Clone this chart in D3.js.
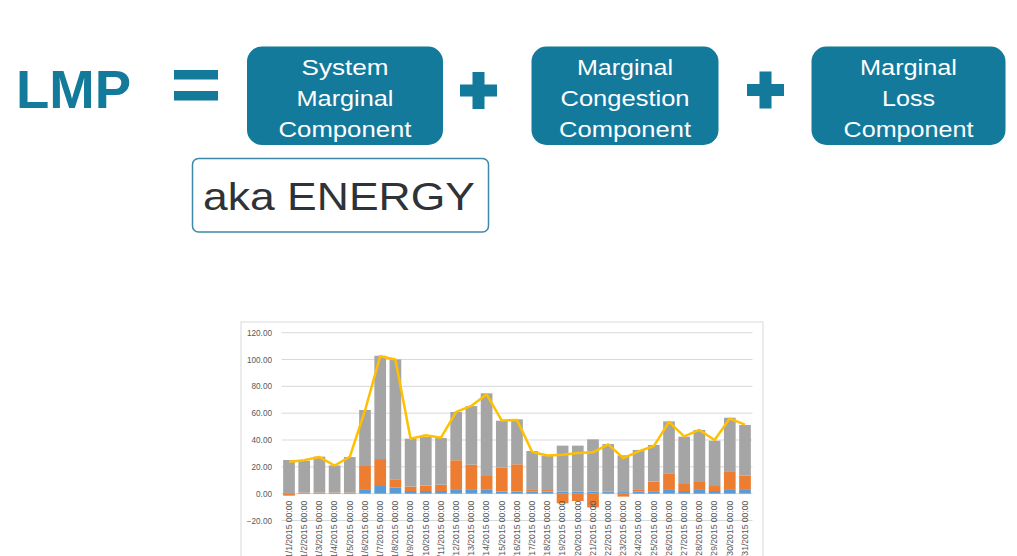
<!DOCTYPE html>
<html><head><meta charset="utf-8">
<script src="https://cdn.jsdelivr.net/npm/d3@7"></script>
<style>
html,body{margin:0;padding:0;background:#fff;}
svg{display:block;font-family:"Liberation Sans",Arial,sans-serif;}
</style></head>
<body>
<svg id="c" width="1017" height="556"></svg>
<script>
// ---- data ----
const days = d3.range(1, 32).map(d => `1/${d}/2015 00:00`);
const loss =       [0.5,0.5,0.5,0.5,0.5,2.8,5.7,4.5,2.0,2.0,2.0,2.8,2.8,3.3,1.5,1.5,1.5,1.5,1.5,1.5,1.5,1.2,1.2,1.5,1.8,2.8,2.0,2.8,2.0,2.8,2.8];
const congestion = [-1.5,0.3,0.3,0.3,0.3,17.8,20.1,6.2,3.3,4.0,4.7,22.1,18.8,9.9,17.9,20.4,1.3,1.2,-7.2,-5.5,-10.2,0.5,-2.2,1.3,7.2,12.4,5.2,5.9,3.7,13.4,10.6];
const energy =     [24.6,23.8,26.8,20.3,26.5,41.8,77.0,89.4,35.7,36.2,34.8,36.0,43.7,61.6,35.0,33.5,29.0,25.6,34.3,34.3,39.0,35.3,27.4,29.8,27.3,38.7,35.3,38.8,33.8,40.4,37.8];
const lmp =        [23.8,25.0,27.3,21.0,27.5,62.0,102.5,100.0,41.0,43.5,41.7,61.0,65.5,74.0,54.5,55.0,31.0,28.5,29.0,30.3,30.8,36.8,26.5,31.5,35.5,53.5,42.7,47.5,40.0,56.0,51.5];
const yTicks = [-20,0,20,40,60,80,100,120];
const seriesKeys = ["loss","congestion","energy"];
const seriesColors = {loss:"#5b9bd5", congestion:"#ed7d31", energy:"#a5a5a5"};

const svg = d3.select("#c");
const teal = "#137a9c";

// ---- header formula ----
svg.append("text").attr("x",16).attr("y",107.5).attr("font-size",54.5).attr("font-weight","bold")
  .attr("fill",teal).attr("textLength",115).attr("lengthAdjust","spacingAndGlyphs").text("LMP");
// equals sign
svg.append("rect").attr("x",174).attr("y",70).attr("width",44).attr("height",9.5).attr("fill",teal);
svg.append("rect").attr("x",174).attr("y",91).attr("width",44).attr("height",9.5).attr("fill",teal);
// plus signs
function plus(cx, cy){
  svg.append("rect").attr("x",cx-6).attr("y",cy-18.5).attr("width",12).attr("height",37).attr("fill",teal);
  svg.append("rect").attr("x",cx-18.5).attr("y",cy-6).attr("width",37).attr("height",12).attr("fill",teal);
}
plus(478.5, 90.5);
plus(765.5, 90);

const boxes = [
  {x:247, w:196, lines:[["System",87],["Marginal",97],["Component",133]]},
  {x:531.5, w:187, lines:[["Marginal",96],["Congestion",129],["Component",132]]},
  {x:811.5, w:194, lines:[["Marginal",97],["Loss",53],["Component",130]]}
];
const baselines = [75, 105.8, 136.7];
boxes.forEach(b => {
  svg.append("rect").attr("x",b.x).attr("y",46.5).attr("width",b.w).attr("height",98.5)
    .attr("rx",15).attr("fill",teal);
  b.lines.forEach((l,i) => {
    svg.append("text").attr("x",b.x+b.w/2).attr("y",baselines[i]).attr("text-anchor","middle")
      .attr("font-size",22).attr("fill","#fff").attr("textLength",l[1]).attr("lengthAdjust","spacingAndGlyphs").text(l[0]);
  });
});
svg.append("rect").attr("x",192.5).attr("y",158.5).attr("width",296).attr("height",73.5)
  .attr("rx",6).attr("fill","#fff").attr("stroke","#3d88a6").attr("stroke-width",1.5);
svg.append("text").attr("x",203).attr("y",210).attr("font-size",39.5).attr("fill","#2f3337")
  .attr("textLength",272).attr("lengthAdjust","spacingAndGlyphs").text("aka ENERGY");

// ---- chart panel ----
svg.append("rect").attr("x",241).attr("y",322).attr("width",522).attr("height",250)
  .attr("fill","#fff").attr("stroke","#d9d9d9").attr("stroke-width",1);

const x = d3.scaleBand().domain(days).range([281.4, 752.6]).paddingInner(0.23).paddingOuter(0.115);
const y = d3.scaleLinear().domain([-20,120]).range([520.5, 332.7]);

// gridlines
svg.append("g").selectAll("line").data(yTicks).join("line")
  .attr("x1",281.5).attr("x2",752.5).attr("y1",d=>y(d)).attr("y2",d=>y(d))
  .attr("stroke","#d9d9d9").attr("stroke-width",1);

// y axis labels
const yAxis = d3.axisLeft(y).tickValues(yTicks).tickFormat(d3.format(".2f")).tickSize(0).tickPadding(0);
const ga = svg.append("g").attr("transform","translate(272,0)").call(yAxis);
ga.select(".domain").remove();
ga.selectAll("text").attr("font-size",8.2).attr("fill","#595959").attr("font-family","'Liberation Sans',Arial,sans-serif");

// stacked bars
const table = days.map((d,i) => ({day:d, loss:loss[i], congestion:congestion[i], energy:energy[i]}));
const stack = d3.stack().keys(seriesKeys).offset(d3.stackOffsetDiverging)(table);
svg.append("g").selectAll("g").data(stack).join("g").attr("fill",s=>seriesColors[s.key])
  .selectAll("rect").data(s=>s).join("rect")
  .attr("x",d=>x(d.data.day)).attr("width",x.bandwidth())
  .attr("y",d=>y(Math.max(d[0],d[1]))).attr("height",d=>Math.abs(y(d[0])-y(d[1])));

// x axis labels
const xAxis = d3.axisBottom(x).tickSize(0).tickPadding(0);
const gx = svg.append("g").attr("transform",`translate(0,${y(0)})`).call(xAxis);
gx.select(".domain").remove();
gx.selectAll("text").attr("font-size",8.6).attr("fill","#595959")
  .attr("font-family","'Liberation Sans',Arial,sans-serif")
  .attr("text-anchor","end").attr("dy","0.32em")
  .attr("transform","translate(0,7) rotate(-90)").attr("x",0).attr("y",0);

// LMP line
const line = d3.line().x((d,i)=>x(days[i])+x.bandwidth()/2).y(d=>y(d));
svg.append("path").datum(lmp).attr("d",line).attr("fill","none")
  .attr("stroke","#ffc000").attr("stroke-width",2.5).attr("stroke-linejoin","round");
</script>
</body></html>
